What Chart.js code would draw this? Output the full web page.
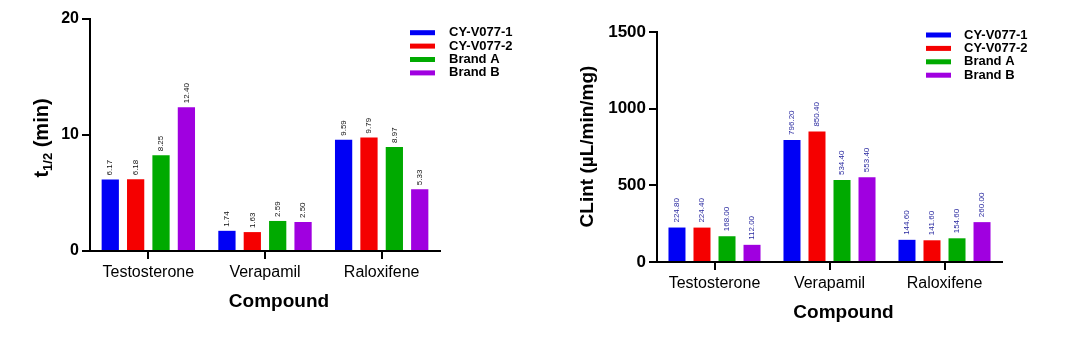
<!DOCTYPE html>
<html><head><meta charset="utf-8">
<script src="https://cdn.jsdelivr.net/npm/chart.js@4.4.1/dist/chart.umd.min.js"></script>
<style>
html,body{margin:0;padding:0;background:#fff;width:1080px;height:340px;overflow:hidden}
canvas{position:absolute;top:0}
#c1{left:0}#c2{left:540px}
</style></head>
<body>
<canvas id="c1" width="540" height="340"></canvas>
<canvas id="c2" width="540" height="340"></canvas>
<script>
// ---- data ----
const categories = ['Testosterone', 'Verapamil', 'Raloxifene'];
const seriesNames = ['CY-V077-1', 'CY-V077-2', 'Brand A', 'Brand B'];
const seriesColors = ['#0000f5', '#f50000', '#00aa00', '#a000e0'];

const halfLife_CY1 = [6.17, 1.74, 9.59];
const halfLife_CY2 = [6.18, 1.63, 9.79];
const halfLife_BrandA = [8.25, 2.59, 8.97];
const halfLife_BrandB = [12.40, 2.50, 5.33];
const halfLifeTicks = [0, 10, 20];

const clint_CY1 = [224.80, 796.20, 144.60];
const clint_CY2 = [224.40, 850.40, 141.60];
const clint_BrandA = [168.00, 534.40, 154.60];
const clint_BrandB = [112.00, 553.40, 260.00];
const clintTicks = [0, 500, 1000, 1500];

const xTitle = 'Compound';
const FONT = "'Liberation Sans', Arial, Helvetica, sans-serif";

function makeChart(id, o) {
  const ctx = document.getElementById(id).getContext('2d');
  const valueLabels = {
    id: 'valueLabels',
    afterDatasetsDraw(chart) {
      const c = chart.ctx;
      c.save();
      c.font = '8px ' + FONT;
      c.fillStyle = o.labelColor;
      chart.data.datasets.forEach((ds, i) => {
        const meta = chart.getDatasetMeta(i);
        meta.data.forEach((bar, j) => {
          c.save();
          c.translate(bar.x, bar.y - o.labelGap);
          c.rotate(-Math.PI / 2);
          c.textAlign = 'left';
          c.textBaseline = 'middle';
          c.fillText(ds.data[j].toFixed(2), 0, 0);
          c.restore();
        });
      });
      c.restore();
    }
  };
  const decorations = {
    id: 'decorations',
    afterDraw(chart) {
      const c = chart.ctx;
      c.save();
      // legend
      c.font = 'bold 13px ' + FONT;
      c.textBaseline = 'middle';
      c.textAlign = 'left';
      chart.data.datasets.forEach((ds, i) => {
        const y = o.legendY0 + i * o.legendDy;
        c.fillStyle = ds.backgroundColor;
        c.fillRect(o.legendX, y - 2.5, 25, 5);
        c.fillStyle = '#000';
        c.fillText(ds.label, o.legendTextX, y);
      });
      // x title
      c.font = 'bold 19px ' + FONT;
      c.textAlign = 'center';
      c.fillStyle = '#000';
      c.fillText(xTitle, o.xTitleX, o.xTitleY);
      // y title
      c.translate(o.yTitleX, o.yTitleY);
      c.rotate(-Math.PI / 2);
      const parts = o.yTitleParts;
      let total = 0;
      parts.forEach(p => { c.font = 'bold ' + p.size + 'px ' + FONT; p.w = c.measureText(p.text).width; total += p.w; });
      let x = -total / 2;
      c.textAlign = 'left';
      parts.forEach(p => {
        c.font = 'bold ' + p.size + 'px ' + FONT;
        c.fillText(p.text, x, p.dy || 0);
        x += p.w;
      });
      c.restore();
    }
  };
  const values = o.values;
  return new Chart(ctx, {
    type: 'bar',
    data: {
      labels: categories,
      datasets: seriesNames.map((n, i) => ({
        label: n,
        data: values[i],
        backgroundColor: seriesColors[i],
        borderWidth: 0,
        categoryPercentage: 0.87,
        barPercentage: 0.68
      }))
    },
    options: {
      responsive: false,
      animation: false,
      devicePixelRatio: 1,
      layout: { padding: { left: 0, right: 540 - o.axisRight, top: o.axisTop, bottom: 0 } },
      plugins: { legend: { display: false }, tooltip: { enabled: false } },
      scales: {
        x: {
          grid: { display: true, drawOnChartArea: false, drawTicks: true, tickLength: 8, offset: false, color: '#000', lineWidth: 2 },
          border: { display: true, color: '#000', width: 2 },
          ticks: { color: '#000', font: { family: FONT, size: 16 }, padding: 4, maxRotation: 0 },
          afterFit: s => { s.height = 340 - o.axisBottom; }
        },
        y: {
          min: o.ticks[0],
          max: o.ticks[o.ticks.length - 1],
          afterBuildTicks: s => { s.ticks = o.ticks.map(v => ({ value: v })); },
          ticks: { color: '#000', font: { family: FONT, size: o.yTickSize, weight: 'bold' }, padding: 3, callback: v => String(v) },
          grid: { display: true, drawOnChartArea: false, drawTicks: true, tickLength: 8, color: '#000', lineWidth: 2 },
          border: { display: true, color: '#000', width: 2 },
          afterFit: s => { s.width = o.axisLeft; }
        }
      }
    },
    plugins: [valueLabels, decorations]
  });
}

makeChart('c1', {
  values: [halfLife_CY1, halfLife_CY2, halfLife_BrandA, halfLife_BrandB],
  ticks: halfLifeTicks, yTickSize: 16,
  labelColor: '#111', labelGap: 4,
  axisLeft: 90, axisRight: 440, axisTop: 19, axisBottom: 251,
  legendX: 410, legendTextX: 449, legendY0: 32.7, legendDy: 13.4,
  xTitleX: 279, xTitleY: 302,
  yTitleX: 42, yTitleY: 138,
  yTitleParts: [{ text: 't', size: 20 }, { text: '1/2', size: 13, dy: 6 }, { text: ' (min)', size: 20 }]
});

makeChart('c2', {
  values: [clint_CY1, clint_CY2, clint_BrandA, clint_BrandB],
  ticks: clintTicks, yTickSize: 17,
  labelColor: '#2a2aa0', labelGap: 5,
  axisLeft: 117, axisRight: 462, axisTop: 32, axisBottom: 262,
  legendX: 386, legendTextX: 424, legendY0: 35, legendDy: 13.4,
  xTitleX: 303.5, xTitleY: 313,
  yTitleX: 47.5, yTitleY: 146.5,
  yTitleParts: [{ text: 'CLint (\u00b5L/min/mg)', size: 19 }]
});
</script>
</body></html>
